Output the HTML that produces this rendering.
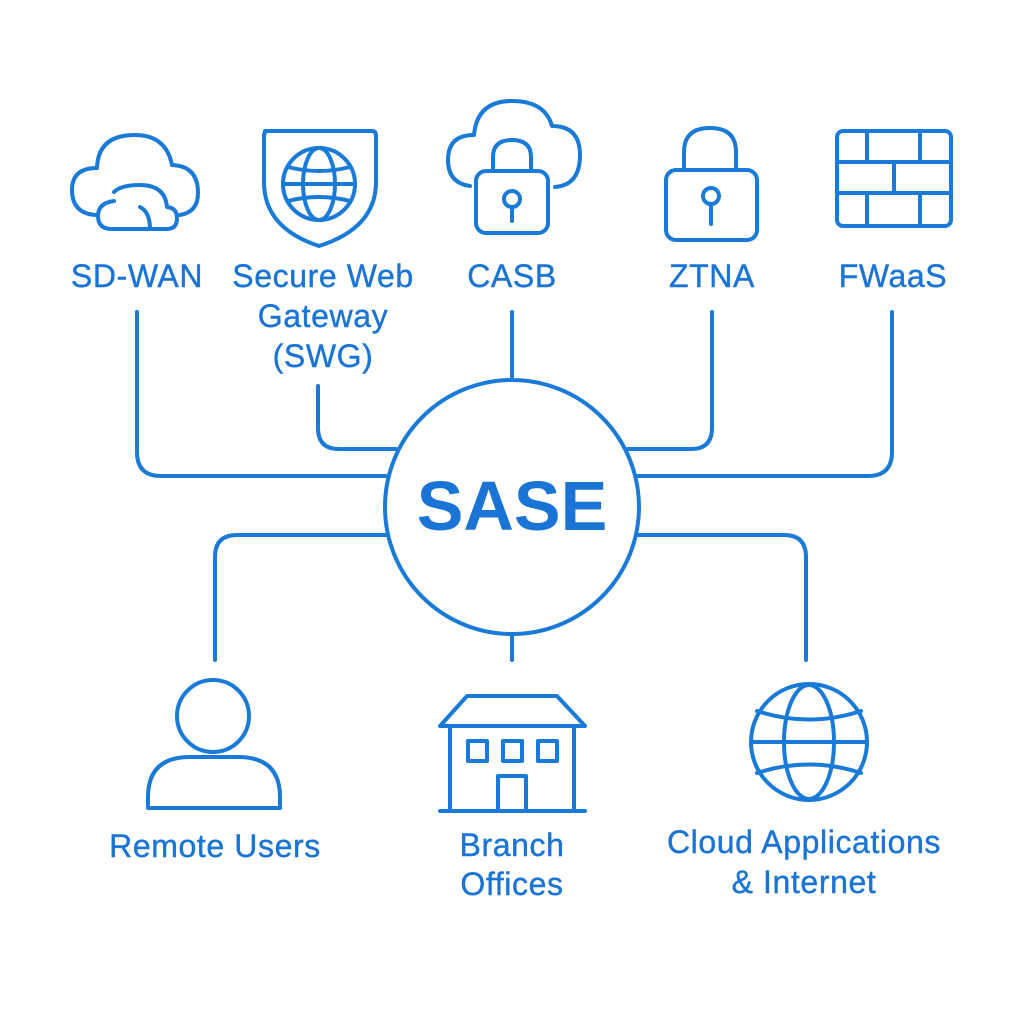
<!DOCTYPE html>
<html><head><meta charset="utf-8"><style>
html,body{margin:0;padding:0;background:#fff}
svg{display:block}
text{font-family:"Liberation Sans",sans-serif;fill:#1a74d6;text-anchor:middle}
.l{font-size:32px;letter-spacing:0.6px;stroke:#1a74d6;stroke-width:0.4px}
</style></head><body>
<svg width="1024" height="1024" viewBox="0 0 1024 1024" xmlns="http://www.w3.org/2000/svg">
<g fill="none" stroke="#1a7ad8" stroke-width="4" stroke-linecap="round" stroke-linejoin="round">
<path d="M137 312 V452 Q137 476 161 476 H386"/>
<path d="M318 386 V428 Q318 449 339 449 H396"/>
<path d="M512 312 V380"/>
<path d="M712 312 V428 Q712 449 691 449 H628"/>
<path d="M892 312 V452 Q892 476 868 476 H638"/>
<path d="M386 535 H237 Q215 535 215 557 V660"/>
<path d="M512 634 V660"/>
<path d="M638 535 H784 Q806 535 806 557 V660"/>
<circle cx="512" cy="507" r="127"/>
<path d="M95 215 Q72 213 72 190 Q72 168 97 168 Q98 135 135 135 Q166 135 172 165 Q198 166 198 193 Q198 212 180 215"/>
<path d="M114 201 Q98 203 98 216 Q98 229 112 229 H167 Q177 229 177 218 Q177 208 167 207 Q165 185 140 185 Q121 185 114 192"/>
<path d="M140 207 Q150 212 150 229"/>
<path d="M265 131 H372 Q376 131 376 136 V182 Q376 228 319 246 Q264 228 264 182 V136 Q264 131 268 131 Z"/>
<circle cx="319" cy="184" r="36"/>
<ellipse cx="319" cy="184" rx="16" ry="36"/>
<path d="M283 184 H355 M288 167 Q319 175 350 167 M288 201 Q319 193 350 201"/>
<path d="M470 186 Q448 183 448 160 Q448 135 474 135 Q477 101 512 101 Q545 101 552 126 Q580 126 580 155 Q580 185 555 187"/>
<path d="M493 171 V157 Q493 140 512 140 Q531 140 531 157 V171"/>
<rect x="476" y="171" width="72" height="62" rx="10"/>
<circle cx="512" cy="199" r="8"/>
<path d="M512 207 V221"/>
<path d="M684 170 V152 Q684 128 710 128 Q736 128 736 152 V170"/>
<rect x="666" y="170" width="91" height="70" rx="10"/>
<circle cx="711" cy="196" r="8"/>
<path d="M711 204 V224"/>
<rect x="837" y="131" width="114" height="95" rx="6"/>
<path d="M837 162 H951 M837 193 H951 M867 131 V162 M920 131 V162 M894 162 V193 M867 193 V226 M920 193 V226"/>
<circle cx="213" cy="716" r="36"/>
<path d="M148 808 V797 Q148 757 190 757 H238 Q280 757 280 797 V808 Z"/>
<path d="M467 696 H557 L585 726 H440 Z"/>
<path d="M450 726 V810 M574 726 V810 M440 811 H585"/>
<rect x="468" y="741" width="19" height="20"/>
<rect x="503" y="741" width="19" height="20"/>
<rect x="538" y="741" width="19" height="20"/>
<path d="M498 810 V776 H526 V810"/>
<circle cx="809" cy="742" r="58"/>
<ellipse cx="809" cy="742" rx="25" ry="57"/>
<path d="M751 742 H867 M757 711 Q809 728 861 711 M757 773 Q809 756 861 773"/>
</g>
<text class="l" x="137" y="287">SD-WAN</text>
<text class="l" x="323" y="287">Secure Web</text>
<text class="l" x="323" y="327">Gateway</text>
<text class="l" x="323" y="367">(SWG)</text>
<text class="l" x="512" y="287">CASB</text>
<text class="l" x="712" y="287">ZTNA</text>
<text class="l" x="893" y="287">FWaaS</text>
<text x="512" y="530" font-size="70" font-weight="bold">SASE</text>
<text class="l" x="215" y="857">Remote Users</text>
<text class="l" x="512" y="856">Branch</text>
<text class="l" x="512" y="895">Offices</text>
<text class="l" x="804" y="853">Cloud Applications</text>
<text class="l" x="804" y="893">&amp; Internet</text>
</svg>
</body></html>
